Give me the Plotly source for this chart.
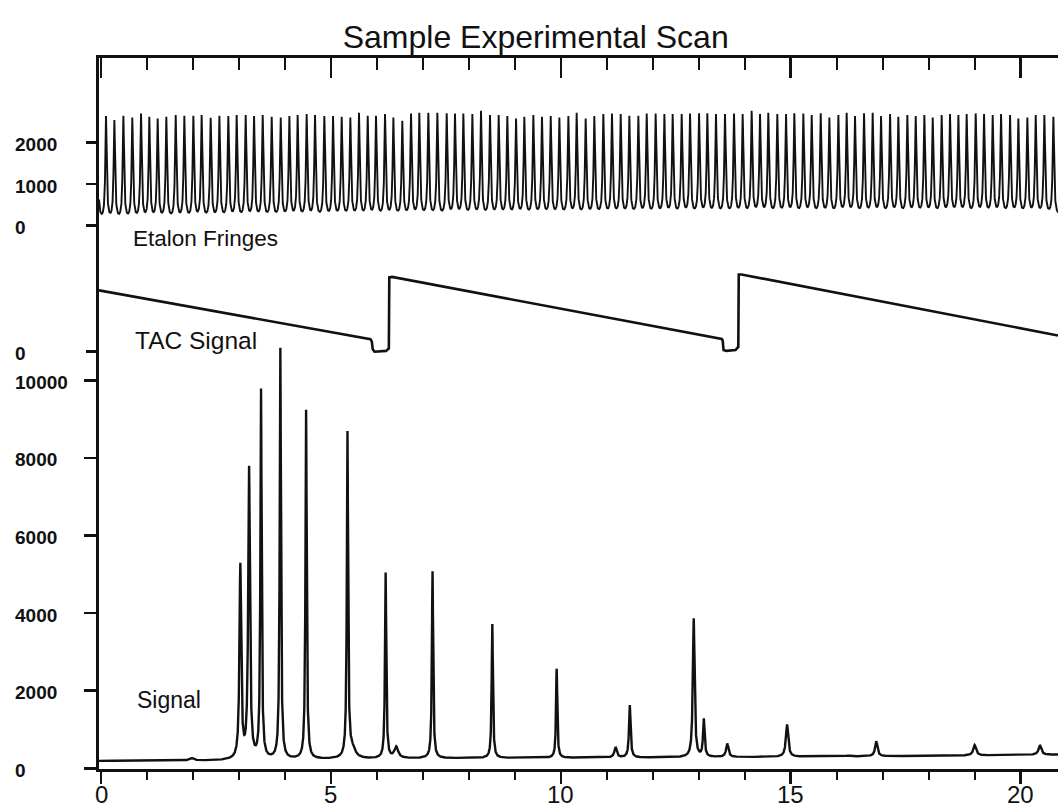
import numpy as np
import plotly.graph_objects as go

# ---------------- data ----------------
X_RANGE = [-0.0435, 20.813]
x_tick_vals = [0, 5, 10, 15, 20]
x_tick_text = ["0", "5", "10", "15", "20"]

signal_tick_vals = [0, 2000, 4000, 6000, 8000, 10000]
signal_tick_text = ["0", "2000", "4000", "6000", "8000", "10000"]
tac_tick_vals = [0]
tac_tick_text = ["0"]
etalon_tick_vals = [0, 1000, 2000]
etalon_tick_text = ["0", "1000", "2000"]

# Signal trace: peak centres, peak values, half widths, baseline knots
signal_peak_x = [1.97, 3.03, 3.22, 3.48, 3.90, 4.46, 5.36, 5.46, 6.19, 6.42, 7.21,
                 8.51, 9.91, 11.19, 11.50, 12.89, 13.11, 13.62, 14.92, 16.25, 16.86,
                 19.00, 20.42]
signal_peak_h = [265, 5300, 7800, 9800, 10850, 9250, 8700, 700, 5050, 570, 5080,
                 3720, 2570, 550, 1630, 3870, 1290, 640, 1130, 330, 700,
                 600, 600]
signal_peak_w = [0.05, 0.022, 0.022, 0.016, 0.016, 0.016, 0.016, 0.08, 0.016, 0.05, 0.016,
                 0.016, 0.016, 0.03, 0.02, 0.022, 0.02, 0.03, 0.03, 0.05, 0.03,
                 0.035, 0.035]
signal_base_x = [-0.05, 2.7, 5.0, 7.0, 10.0, 14.0, 18.0, 20.9]
signal_base_y = [190, 200, 235, 255, 270, 290, 320, 355]

# TAC signal (saw-tooth) corner points
tac_x = [-0.0435, 5.86, 5.89, 5.91, 5.95, 6.20, 6.26, 6.27, 6.33,
         13.50, 13.52, 13.54, 13.60, 13.80, 13.86, 13.87, 13.93, 20.813]
tac_y = [0.767, 0.156, 0.125, 0.03, 0.0, 0.01, 0.04, 0.93, 0.935,
         0.159, 0.14, 0.02, 0.01, 0.02, 0.06, 0.965, 0.965, 0.2025]

# Etalon fringes: fringe centres and peak values
etalon_x = [-0.080,
    0.109, 0.290, 0.486, 0.681, 0.870, 1.051, 1.232, 1.421, 1.624, 1.812,
    2.008, 2.189, 2.385, 2.574, 2.769, 2.951, 3.146, 3.328, 3.516, 3.712,
    3.908, 4.096, 4.277, 4.473, 4.654, 4.857, 5.046, 5.234, 5.423, 5.611,
    5.800, 5.981, 6.177, 6.358, 6.553, 6.742, 6.923,
    7.119, 7.315, 7.518, 7.699, 7.880, 8.076, 8.264, 8.460, 8.649, 8.837,
    9.026, 9.207, 9.403, 9.591, 9.780, 9.968, 10.164, 10.345, 10.541, 10.729,
    10.925, 11.113, 11.302, 11.490, 11.686, 11.868, 12.063, 12.252, 12.433, 12.629,
    12.810, 13.006, 13.187, 13.375, 13.571, 13.767, 13.955,
    14.151, 14.332, 14.513, 14.709, 14.898, 15.079, 15.275, 15.456, 15.652, 15.840,
    16.036, 16.217, 16.398, 16.594, 16.783, 16.964, 17.160, 17.341, 17.537, 17.718,
    17.906, 18.088, 18.283, 18.465, 18.646, 18.827, 19.023, 19.204, 19.393, 19.574,
    19.770, 19.951, 20.146, 20.328, 20.516, 20.712]
etalon_h = [2650,
    2643, 2547, 2651, 2611, 2708, 2627, 2587, 2627, 2667, 2651,
    2651, 2667, 2603, 2651, 2643, 2667, 2667, 2643, 2667, 2627,
    2611, 2643, 2667, 2692, 2667, 2643, 2643, 2627, 2611, 2724,
    2651, 2651, 2692, 2611, 2531, 2708, 2724,
    2724, 2724, 2708, 2708, 2708, 2692, 2772, 2667, 2667, 2643,
    2587, 2627, 2667, 2627, 2643, 2611, 2643, 2724, 2587, 2643,
    2692, 2708, 2692, 2651, 2651, 2708, 2708, 2692, 2692, 2692,
    2708, 2708, 2708, 2692, 2692, 2708, 2692,
    2772, 2692, 2724, 2692, 2692, 2708, 2708, 2667, 2708, 2611,
    2667, 2724, 2643, 2708, 2724, 2643, 2692, 2627, 2667, 2643,
    2667, 2611, 2667, 2692, 2667, 2692, 2708, 2692, 2667, 2692,
    2667, 2587, 2611, 2667, 2667, 2627]
etalon_width = 0.018
etalon_base_x = [-0.1, 7.0, 14.0, 20.9]
etalon_base_y = [85, 170, 225, 230]

# ---------------- rendering helpers ----------------
xs = np.arange(X_RANGE[0], X_RANGE[1] + 0.002, 0.002)


def lorentz(x, c, w):
    return w * w / (w * w + (x - c) ** 2)


def peaks_curve(x, centers, heights, widths, base_x, base_y):
    centers = np.asarray(centers, float)
    heights = np.asarray(heights, float)
    widths = np.broadcast_to(np.asarray(widths, float), centers.shape)
    base_at_c = np.interp(centers, base_x, base_y)
    K = lorentz(centers[:, None], centers[None, :], widths[None, :])
    amps = np.linalg.solve(K, heights - base_at_c)
    y = np.interp(x, base_x, base_y)
    for c, a, w in zip(centers, amps, widths):
        y = y + a * lorentz(x, c, w)
    return y


signal_y = peaks_curve(xs, signal_peak_x, signal_peak_h, signal_peak_w,
                       signal_base_x, signal_base_y)
etalon_y = peaks_curve(xs, etalon_x, etalon_h, etalon_width,
                       etalon_base_x, etalon_base_y)

# ---------------- layout geometry (page pixels) ----------------
W, H = 1058, 810
PL, PR, PT, PB = 99, 1058, 58, 769


def px_x(p):
    return (p - PL) / (PR - PL)


def px_y(p):
    return (PB - p) / (PB - PT)


FONT = "Liberation Sans, Arial, Helvetica, sans-serif"
INK = "#111111"

fig = go.Figure()
fig.add_trace(go.Scatter(x=xs, y=signal_y, mode="lines", xaxis="x", yaxis="y",
                         line=dict(color=INK, width=2.4), hoverinfo="skip", showlegend=False))
fig.add_trace(go.Scatter(x=tac_x, y=tac_y, mode="lines", xaxis="x", yaxis="y2",
                         line=dict(color=INK, width=2.6), hoverinfo="skip", showlegend=False))
fig.add_trace(go.Scatter(x=xs, y=etalon_y, mode="lines", xaxis="x2", yaxis="y3",
                         line=dict(color=INK, width=1.9), hoverinfo="skip", showlegend=False))

tick_common = dict(showgrid=False, zeroline=False, color=INK, automargin=False)

fig.update_layout(
    width=W, height=H, autosize=False,
    margin=dict(l=PL, r=W - PR, t=PT, b=H - PB, pad=0),
    paper_bgcolor="white", plot_bgcolor="white",
    font=dict(family=FONT, color=INK),
    title=dict(text="Sample Experimental Scan", x=535.7 / W, xanchor="center",
               y=1 - 37.0 / H, yanchor="middle",
               font=dict(size=32, family=FONT, color=INK)),
    xaxis=dict(range=X_RANGE, tickmode="array", tickvals=x_tick_vals,
               showticklabels=False,
               ticks="outside", ticklen=12, tickwidth=2.5, tickcolor=INK,
               minor=dict(ticks="outside", ticklen=8, tickwidth=2.2, tickcolor=INK,
                          tick0=0, dtick=1, showgrid=False),
               showline=True, linewidth=3, linecolor=INK, anchor="y", **tick_common),
    xaxis2=dict(range=X_RANGE, matches="x", overlaying="x", side="top", anchor="y",
                tickmode="array", tickvals=x_tick_vals, showticklabels=False,
                ticks="inside", ticklen=20, tickwidth=2.5, tickcolor=INK,
                minor=dict(ticks="inside", ticklen=12, tickwidth=2.2, tickcolor=INK,
                           tick0=0, dtick=1, showgrid=False),
                showline=True, linewidth=3, linecolor=INK, **tick_common),
    yaxis=dict(range=[-18, 18306], tickmode="array", tickvals=signal_tick_vals,
               showticklabels=False, ticks="outside", ticklen=12, tickwidth=2.5,
               tickcolor=INK, showline=True, linewidth=3, linecolor=INK,
               anchor="x", **tick_common),
    yaxis2=dict(range=[-5.216, 3.671], overlaying="y", anchor="x", side="left",
                tickmode="array", tickvals=tac_tick_vals, showticklabels=False,
                ticks="outside", ticklen=12, tickwidth=2.5, tickcolor=INK,
                showline=False, **tick_common),
    yaxis3=dict(range=[-13092, 4041], overlaying="y", anchor="x2", side="left",
                tickmode="array", tickvals=etalon_tick_vals, showticklabels=False,
                ticks="outside", ticklen=12, tickwidth=2.5, tickcolor=INK,
                showline=False, **tick_common),
)

ann = []
# left-aligned y tick labels, positioned through each axis' scale
LABEL_X = px_x(13)
for vals, texts, yref in [(signal_tick_vals, signal_tick_text, "y"),
                          (tac_tick_vals, tac_tick_text, "y2"),
                          (etalon_tick_vals, etalon_tick_text, "y3")]:
    for v, t in zip(vals, texts):
        ann.append(dict(x=LABEL_X, xref="paper", y=v, yref=yref, text="<b>" + t + "</b>",
                        xanchor="left", yanchor="middle", yshift=-2, showarrow=False,
                        font=dict(size=19, family=FONT, color=INK)))

# x tick labels, positioned through the x axis scale
for v, t in zip(x_tick_vals, x_tick_text):
    ann.append(dict(x=v, xref="x", y=px_y(794), yref="paper", text=t,
                    xanchor="center", yanchor="middle", showarrow=False,
                    font=dict(size=24, family=FONT, color=INK)))

# trace labels
for text, lx, ly, fs in [("Etalon Fringes", 131, 239, 22.5), ("TAC Signal", 132.5, 340, 24.5),
                         ("Signal", 135, 700, 23)]:
    ann.append(dict(x=px_x(lx), xref="paper", y=px_y(ly), yref="paper", text=text,
                    xanchor="left", yanchor="middle", showarrow=False,
                    font=dict(size=fs, family=FONT, color=INK)))

fig.update_layout(annotations=ann)
# remove the default page margin so the figure fills the window exactly
fig.write_html("out.html",
               config={"displayModeBar": False, "staticPlot": True},
               post_script="document.body.style.margin='0';document.body.style.overflow='hidden';")
